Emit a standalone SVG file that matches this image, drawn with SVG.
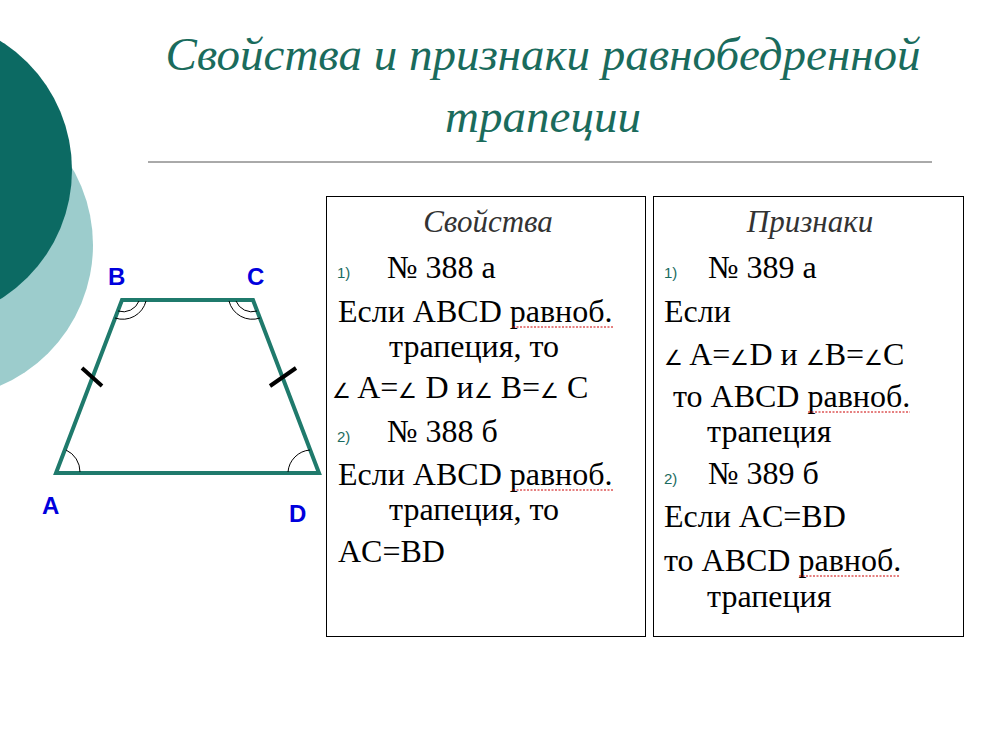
<svg xmlns="http://www.w3.org/2000/svg" width="981" height="733" viewBox="0 0 981 733">
<style>
.t{font-family:"Liberation Serif","Times New Roman",serif;font-size:32px;fill:#000}
.a{font-size:21px}
.n{font-family:"Liberation Sans",sans-serif;font-size:15px;fill:#1a6b60}
.l{font-family:"Liberation Sans",sans-serif;font-size:24px;font-weight:bold;fill:#0000dd}
.h{font-family:"Liberation Serif",serif;font-style:italic;font-size:31px;fill:#333}
.arc{fill:none;stroke:#000;stroke-width:1}
.u{stroke:#c00;stroke-width:1;stroke-dasharray:2,1.5;fill:none}
</style>
<rect width="981" height="733" fill="#fff"/>
<circle cx="-60" cy="245" r="153" fill="#9ccccc"/>
<circle cx="-80" cy="170" r="152" fill="#0c6a63"/>
<text x="543" y="70" text-anchor="middle" font-family="Liberation Serif,serif" font-style="italic" font-size="47" fill="#1a6b5c">Свойства и признаки равнобедренной</text>
<text x="543" y="132" text-anchor="middle" font-family="Liberation Serif,serif" font-style="italic" font-size="47" fill="#1a6b5c">трапеции</text>
<line x1="148" y1="162" x2="932" y2="162" stroke="#555" stroke-width="1"/>
<g id="trapezoid">
<polygon points="122,300 253,300 319,473 56,473" fill="none" stroke="#1f7a6c" stroke-width="4"/>
<path class="arc" d="M146,301 A24,24 0 0 1 115,318"/>
<path class="arc" d="M139,301 A17,17 0 0 1 118,311"/>
<path class="arc" d="M229,301 A24,24 0 0 0 260,318"/>
<path class="arc" d="M236,301 A17,17 0 0 0 257,311"/>
<path class="arc" d="M66,450 A24,24 0 0 1 80,472"/>
<path class="arc" d="M310,450 A24,24 0 0 0 288,472"/>
<line x1="82" y1="368" x2="102" y2="386" stroke="#000" stroke-width="4"/>
<line x1="270" y1="386" x2="296" y2="368" stroke="#000" stroke-width="4"/>
<text class="l" x="108" y="285">B</text>
<text class="l" x="247" y="285">C</text>
<text class="l" x="42" y="514">A</text>
<text class="l" x="289" y="522">D</text>
</g>
<g id="properties">
<rect x="326.5" y="196.5" width="319" height="440" fill="#fff" stroke="#000"/>
<text class="h" x="488" y="232" text-anchor="middle">Свойства</text>
<text class="n" x="337" y="278">1)</text><text class="t" x="387" y="278">№ 388 а</text>
<text class="t" x="338" y="322">Если ABCD равноб.</text>
<path class="u" d="M513,327 H614"/>
<text class="t" x="389" y="357">трапеция, то</text>
<text class="t" x="332" y="398"><tspan class="a">∠</tspan> A=<tspan class="a">∠</tspan> D и<tspan class="a">∠</tspan> B=<tspan class="a">∠</tspan> C</text>
<text class="n" x="337" y="442">2)</text><text class="t" x="387" y="442">№ 388 б</text>
<text class="t" x="338" y="485">Если ABCD равноб.</text>
<path class="u" d="M513,490 H614"/>
<text class="t" x="389" y="520">трапеция, то</text>
<text class="t" x="338" y="562">AC=BD</text>
</g>
<g id="criteria">
<rect x="653.5" y="196.5" width="310" height="440" fill="#fff" stroke="#000"/>
<text class="h" x="810" y="232" text-anchor="middle">Признаки</text>
<text class="n" x="664" y="278">1)</text><text class="t" x="708" y="278">№ 389 а</text>
<text class="t" x="664" y="322">Если</text>
<text class="t" x="664" y="365"><tspan class="a">∠</tspan> A=<tspan class="a">∠</tspan>D и <tspan class="a">∠</tspan>B=<tspan class="a">∠</tspan>C</text>
<text class="t" x="673" y="407">то ABCD равноб.</text>
<path class="u" d="M808,412 H910"/>
<text class="t" x="707" y="442">трапеция</text>
<text class="n" x="664" y="484">2)</text><text class="t" x="708" y="484">№ 389 б</text>
<text class="t" x="664" y="527">Если AC=BD</text>
<text class="t" x="664" y="571">то ABCD равноб.</text>
<path class="u" d="M799,576 H900"/>
<text class="t" x="707" y="607">трапеция</text>
</g>
</svg>
